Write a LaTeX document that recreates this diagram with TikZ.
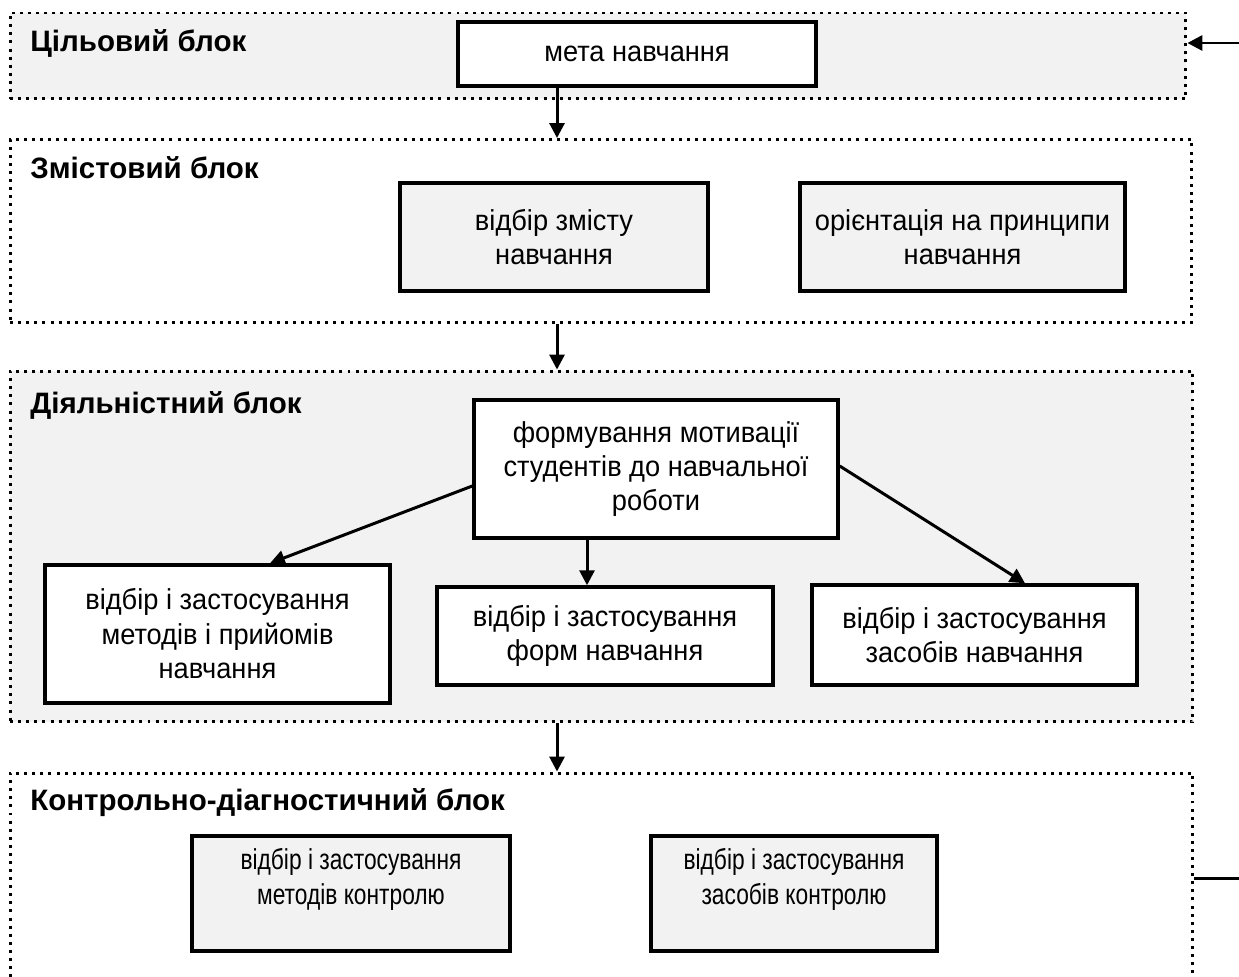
\documentclass[tikz,border=0pt]{standalone}
\usepackage{fontspec}
\setmainfont{Liberation Sans}
\newfontfamily\boxfont[FakeStretch=0.945]{Liberation Sans}
\newfontfamily\narrowfont[FakeStretch=0.79]{Liberation Sans}
\usepackage{tikz}
\usetikzlibrary{arrows.meta, positioning}
\definecolor{blockgray}{RGB}{242,242,242}

\begin{document}
\begin{tikzpicture}[
    x=0.02cm, y=-0.02cm,
    block/.style={draw, line width=1.7pt, dash pattern=on 1.7pt off 2.9pt, inner sep=0pt},
    title/.style={font=\fontsize{16.8}{19}\selectfont\bfseries, anchor=west, inner sep=0pt},
    item/.style={draw, line width=2pt, align=center, inner sep=0pt, font=\boxfont\fontsize{16.4}{19.6}\selectfont},
    smallitem/.style={item, font=\narrowfont\fontsize{16.4}{19.6}\selectfont},
    flow/.style={line width=1.7pt, -{Triangle[length=8.5pt,width=8.5pt]}}
]
    \useasboundingbox (0,0) rectangle (1239,976);
    \clip (0,0) rectangle (1239,976);

    % Blocks
    \node[block, fill=blockgray, minimum width=23.52cm, minimum height=1.72cm] (goalblock) at (598,56) {};
    \node[title] (goaltitle) at (30,43) {Цільовий блок};
    \node[block, fill=white, minimum width=23.64cm, minimum height=3.66cm] (contentblock) at (601,231) {};
    \node[title] (contenttitle) at (30,168) {Змістовий блок};
    \node[block, fill=blockgray, minimum width=23.66cm, minimum height=7.02cm] (actblock) at (601.5,546.5) {};
    \node[title] (acttitle) at (30,405) {Діяльністний блок};
    \node[block, fill=white, minimum width=23.66cm, minimum height=5.08cm] (ctrlblock) at (601.5,900) {};
    \node[title] (ctrltitle) at (30,803) {Контрольно-діагностичний блок};

    % Boxes
    \node[item, fill=white, minimum width=7.16cm, minimum height=1.28cm] (goal) at (637,54) {мета навчання};
    \node[item, fill=blockgray, minimum width=6.16cm, minimum height=2.16cm] (selcontent) at (554,237) {відбір змісту\\навчання};
    \node[item, fill=blockgray, minimum width=6.5cm, minimum height=2.16cm] (principles) at (962.5,237) {орієнтація на принципи\\навчання};
    \node[item, fill=white, minimum width=7.28cm, minimum height=2.76cm] (motiv) at (656,469) {формування мотивації\\студентів до навчальної\\роботи};
    \node[item, fill=white, minimum width=6.9cm, minimum height=2.76cm] (methods) at (217.5,634) {відбір і застосування\\методів і прийомів\\навчання};
    \node[item, fill=white, minimum width=6.72cm, minimum height=1.96cm] (forms) at (605,636) {відбір і застосування\\форм навчання};
    \node[item, fill=white, minimum width=6.5cm, minimum height=2cm] (means) at (974.5,635) {відбір і застосування\\засобів навчання};
    \node[smallitem, fill=blockgray, minimum width=6.36cm, minimum height=2.3cm] (ctrlmethods) at (351,893.5) {відбір і застосування\\методів контролю\\\mbox{}};
    \node[smallitem, fill=blockgray, minimum width=5.72cm, minimum height=2.3cm] (ctrlmeans) at (794,893.5) {відбір і застосування\\засобів контролю\\\mbox{}};

    % Connections
    \coordinate (spine) at (557,0);
    \coordinate (down) at (587,0);
    \draw[flow] (goal.south -| spine) -- (contentblock.north -| spine);
    \draw[flow] (contentblock.south -| spine) -- (actblock.north -| spine);
    \draw[flow] (actblock.south -| spine) -- (ctrlblock.north -| spine);
    \draw[flow] ([yshift=-0.34cm]motiv.west) -- ([xshift=1.05cm]methods.north);
    \draw[flow] (motiv.south -| down) -- (forms.north -| down);
    \draw[flow] ([yshift=0.06cm]motiv.east) -- ([xshift=1.01cm]means.north);

    % Feedback
    \coordinate (edgetop) at (1239,43);
    \coordinate (edgebot) at (1239,878);
    \draw[line width=1.7pt] (ctrlblock.east |- edgebot) -- (edgebot);
    \draw[flow] (edgetop) -- (goalblock.east |- edgetop);
\end{tikzpicture}
\end{document}
